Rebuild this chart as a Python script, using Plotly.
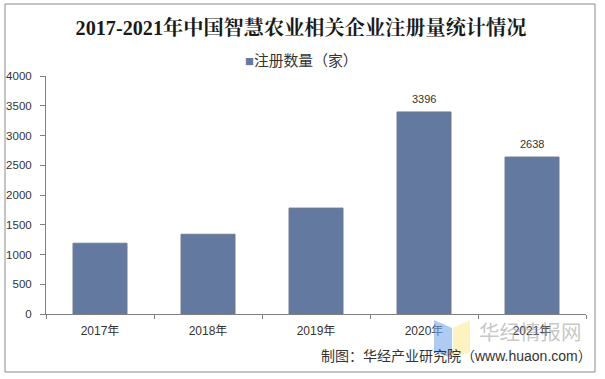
import plotly.graph_objects as go

categories = ["2017年", "2018年", "2019年", "2020年", "2021年"]
series_name = "注册数量\uff08家\uff09"
values = [1190, 1340, 1780, 3396, 2638]
labels = ["", "", "", "3396", "2638"]
y_ticks = [0, 500, 1000, 1500, 2000, 2500, 3000, 3500, 4000]
title = "2017-2021年中国智慧农业相关企业注册量统计情况"
legend_text = "注册数量\uff08家\uff09"
credit = "制图\uff1a华经产业研究院\uff08www.huaon.com\uff09"
watermark = "华经情报网"

W, H = 605, 379
L, R, T, B = 46, 586, 76, 314
FONT = "Liberation Sans, Noto Sans CJK SC, sans-serif"
BAR = "#64799f"


def px(x):
    return (x - L) / (R - L)


def py(y):
    return (B - y) / (B - T)


def poly(pts):
    return " ".join(("M" if i == 0 else "L") + f" {px(x)},{py(y)}" for i, (x, y) in enumerate(pts)) + " Z"


fig = go.Figure(go.Bar(
    x=categories, y=values, name=series_name, width=0.5,
    marker=dict(color=BAR, line=dict(color="#707b90", width=1)),
    showlegend=False,
))

value_notes = [
    dict(text=t, x=c, y=v, xref="x", yref="y", yanchor="middle", yshift=13, showarrow=False,
         font=dict(size=11, color="#333333", family=FONT))
    for c, v, t in zip(categories, values, labels) if t
]

fig.update_layout(
    width=W, height=H, autosize=False,
    paper_bgcolor="white", plot_bgcolor="white",
    margin=dict(l=L, r=W - R, t=T, b=H - B),
    title=dict(text="<b>" + title + "</b>", x=301 / W, xanchor="center", xref="container",
               y=1 - 28 / H, yanchor="middle",
               font=dict(size=20.2, color="#1a1a1a", family="Liberation Serif, Noto Serif CJK SC, Noto Sans CJK SC, serif")),
    xaxis=dict(type="category", range=[-0.5, 4.5], showline=True, linecolor="#808080", linewidth=1,
               ticks="outside", ticklen=4, tickcolor="#808080", tickson="boundaries",
               ticklabelstandoff=6, automargin=False,
               showgrid=False, tickfont=dict(size=12, color="#333333", family=FONT)),
    yaxis=dict(range=[0, 4000], tickvals=y_ticks, showline=True, linecolor="#808080", linewidth=1,
               ticks="outside", ticklen=5, tickcolor="#808080", ticklabelstandoff=6, automargin=False,
               showgrid=False, zeroline=False, tickfont=dict(size=11.5, color="#333333", family=FONT)),
    shapes=[
        dict(type="rect", xref="paper", yref="paper",
             x0=px(5), x1=px(595), y0=py(372), y1=py(4),
             line=dict(color="#8a8a8a", width=1), fillcolor="rgba(0,0,0,0)", layer="below"),
        dict(type="path", xref="paper", yref="paper",
             path=poly([(434, 320), (452, 328), (452, 358), (434, 352)]),
             fillcolor="rgba(120,170,235,0.6)", line=dict(width=0), layer="above"),
        dict(type="path", xref="paper", yref="paper",
             path=poly([(453, 328), (470, 320), (470, 352), (453, 358)]),
             fillcolor="rgba(250,235,150,0.6)", line=dict(width=0), layer="above"),
    ],
    annotations=value_notes + [
        dict(text=f'<span style="color:{BAR}">■</span>' + legend_text, xref="paper", yref="paper",
             x=px(301), y=py(61), xanchor="center", yanchor="middle", showarrow=False,
             font=dict(size=14.8, color="#333333", family=FONT)),
        dict(text=watermark, xref="paper", yref="paper", x=px(477), y=py(331),
             xanchor="left", yanchor="middle", showarrow=False,
             font=dict(size=20.5, color="rgba(150,150,150,0.55)", family="Noto Sans CJK SC, sans-serif")),
        dict(text=credit, xref="paper", yref="paper", x=px(594), y=py(356),
             xanchor="right", yanchor="middle", showarrow=False,
             font=dict(size=14, color="#333333", family=FONT)),
    ],
)

fig.write_html("out.html", config={"displayModeBar": False},
               post_script="document.body.style.margin='0';")
